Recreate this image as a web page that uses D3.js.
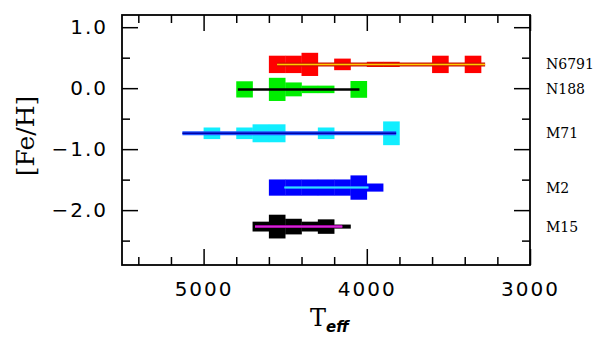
<!DOCTYPE html>
<html>
<head>
<meta charset="utf-8">
<script src="https://cdn.jsdelivr.net/npm/d3@7"></script>
<style>
  body { margin: 0; background: #fff; }
  .tick text { font-family: "DejaVu Sans", sans-serif; font-size: 20px; letter-spacing: 2px; fill: #000; }
</style>
</head>
<body>
<script>
'use strict';

const width = 600;
const height = 342;

// cluster data
const clusterNames = ["N6791", "N188", "M71", "M2", "M15"];
const clusterFeh = [0.39, -0.02, -0.74, -1.63, -2.27];
const lineTeff = [[4550, 3275], [4790, 4045], [5130, 3820], [4505, 3990], [4685, 4150]];

// 100 K histogram bins (hot edge) and star counts
const binTeff = [
    [4600, 4500, 4400, 4200, 4000, 3900, 3600, 3400],
    [4800, 4600, 4500, 4400, 4300, 4100],
    [5000, 4800, 4700, 4600, 4300, 3900],
    [4600, 4500, 4400, 4300, 4200, 4100, 4000],
    [4700, 4600, 4500, 4400, 4300, 4200]
];
const binCount = [
    [3, 3, 4, 2, 0.9, 0.9, 3, 3],
    [2.8, 4, 2.4, 1.3, 1.3, 2.9],
    [2, 2, 3.1, 3.1, 2, 4.1],
    [2.8, 2.8, 2.8, 2.8, 2.8, 4.2, 1.4],
    [1.7, 4.1, 2.7, 1.7, 2.5, 0.7]
];

const xMajor = [5000, 4000, 3000];
const xMinor = [5400, 5200, 4800, 4600, 4400, 4200, 3800, 3600, 3400, 3200];
const yMajor = [1.0, 0.0, -1.0, -2.0];
const yMinor = [0.5, -0.5, -1.5, -2.5];

const fills = ["#ff0000", "#00ee00", "#11eeff", "#0000ff", "#000000"];
const lineOuter = ["#cc1100", "#000000", "#2255ff", "#1e90ff", "#a000a0"];
const lineInner = ["#ffcc00", "#000000", "#0000aa", "#33ddff", "#d030d0"];
const lineOuterW = [4, 2.5, 4, 2.5, 3];
const lineInnerW = [1.5, 0, 1.5, 1.5, 1.2];

const margin = {left: 122, right: 70, top: 15, bottom: 77};

const svg = d3.select("body")
    .append("svg")
    .attr("width", width)
    .attr("height", height);

let x = d3.scaleLinear()
    .domain([5500, 3000])
    .range([margin.left, width - margin.right]);

let y = d3.scaleLinear()
    .domain([-2.9, 1.2])
    .range([height - margin.bottom, margin.top]);

// half-height of a bin in dex per star
let countScale = d3.scaleLinear().domain([0, 1]).range([0, 0.0475]);

// histograms
clusterNames.forEach((name, i) => {
    let bins = binTeff[i].map((t, j) => ({t: t, n: binCount[i][j]}));
    svg.append("g")
        .selectAll("rect")
        .data(bins)
        .enter()
        .append("rect")
        .attr("x", d => x(d.t))
        .attr("width", d => x(d.t - 100) - x(d.t) + 0.3)
        .attr("y", d => y(clusterFeh[i] + countScale(d.n)))
        .attr("height", d => y(clusterFeh[i] - countScale(d.n)) - y(clusterFeh[i] + countScale(d.n)))
        .attr("fill", fills[i]);

    let line = d3.line()
        .x(d => x(d))
        .y(() => y(clusterFeh[i]));

    svg.append("path")
        .attr("d", line(lineTeff[i]))
        .attr("stroke", lineOuter[i])
        .attr("stroke-width", lineOuterW[i])
        .attr("fill", "none");
    if (lineInnerW[i] > 0) {
        svg.append("path")
            .attr("d", line(lineTeff[i]))
            .attr("stroke", lineInner[i])
            .attr("stroke-width", lineInnerW[i])
            .attr("fill", "none");
    }

    svg.append("text")
        .attr("x", 546)
        .attr("y", y(clusterFeh[i]))
        .attr("dy", "0.36em")
        .attr("font-family", "DejaVu Serif, serif")
        .attr("font-size", 14)
        .text(name);
});

// axes, ticks pointing inward
const plotH = y.range()[0] - y.range()[1];
const plotW = x.range()[1] - x.range()[0];

function drawAxis(axis, transform) {
    let g = svg.append("g").attr("transform", transform).call(axis);
    g.select(".domain").remove();
    g.selectAll(".tick line").attr("stroke", "#000").attr("stroke-width", 1.5);
    return g;
}

drawAxis(d3.axisBottom(x).tickValues(xMajor).tickSizeInner(-16).tickSizeOuter(0).tickPadding(17).tickFormat(d3.format("d")),
    `translate(0,${y.range()[0]})`);
drawAxis(d3.axisBottom(x).tickValues(xMinor).tickSizeInner(-8).tickSizeOuter(0).tickFormat(""),
    `translate(0,${y.range()[0]})`);
drawAxis(d3.axisTop(x).tickValues(xMajor).tickSizeInner(-16).tickSizeOuter(0).tickFormat(""),
    `translate(0,${y.range()[1]})`);
drawAxis(d3.axisTop(x).tickValues(xMinor).tickSizeInner(-8).tickSizeOuter(0).tickFormat(""),
    `translate(0,${y.range()[1]})`);

drawAxis(d3.axisLeft(y).tickValues(yMajor).tickSizeInner(-16).tickSizeOuter(0).tickPadding(14).tickFormat(d3.format(".1f")),
    `translate(${x.range()[0]},0)`);
drawAxis(d3.axisLeft(y).tickValues(yMinor).tickSizeInner(-8).tickSizeOuter(0).tickFormat(""),
    `translate(${x.range()[0]},0)`);
drawAxis(d3.axisRight(y).tickValues(yMajor).tickSizeInner(-16).tickSizeOuter(0).tickFormat(""),
    `translate(${x.range()[1]},0)`);
drawAxis(d3.axisRight(y).tickValues(yMinor).tickSizeInner(-8).tickSizeOuter(0).tickFormat(""),
    `translate(${x.range()[1]},0)`);

svg.append("rect")
    .attr("x", x.range()[0])
    .attr("y", y.range()[1])
    .attr("width", plotW)
    .attr("height", plotH)
    .attr("fill", "none")
    .attr("stroke", "#000")
    .attr("stroke-width", 1.8);

// axis titles
let xt = svg.append("text")
    .attr("x", 310)
    .attr("y", 326)
    .attr("font-family", "DejaVu Serif, serif")
    .attr("font-size", 24);
xt.append("tspan").text("T");
xt.append("tspan")
    .attr("dy", 6)
    .attr("font-family", "DejaVu Sans, sans-serif")
    .attr("font-size", 15)
    .attr("font-weight", "bold")
    .attr("font-style", "italic")
    .text("eff");

svg.append("text")
    .attr("transform", "translate(34,136) rotate(-90)")
    .attr("text-anchor", "middle")
    .attr("font-family", "DejaVu Serif, serif")
    .attr("font-size", 25)
    .text("[Fe/H]");
</script>
</body>
</html>
